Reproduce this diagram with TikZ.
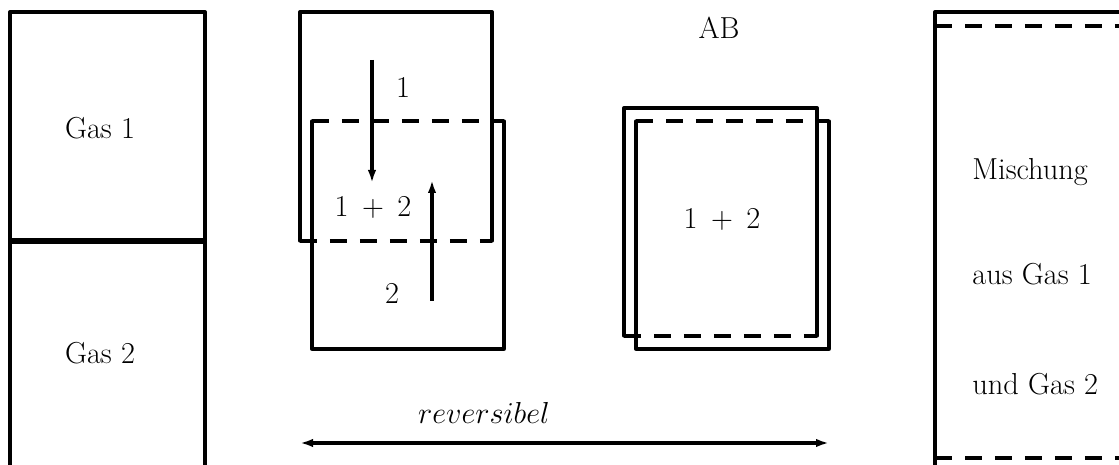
\documentclass[tikz,border=0pt]{standalone}
\usepackage{tikz}
\usetikzlibrary{arrows.meta,positioning}
\tikzset{
  wall/.style={
    line width=1.9pt,
    line cap=round,
    line join=round
  },
  sep/.style={
    line width=2.9pt
  },
  membrane/.style={
    line width=1.9pt,
    dash pattern=on 0.34cm off 0.26cm
  },
  flow/.style={
    line width=1.9pt,
    -{Latex[length=0.26cm,width=0.17cm]}
  },
  both/.style={
    line width=1.9pt,
    {Latex[length=0.26cm,width=0.17cm]}-{Latex[length=0.26cm,width=0.17cm]}
  },
  lbl/.style={
    inner sep=0pt
  },
  lblL/.style={
    anchor = west,
    inner sep=0pt
  }
}
\begin{document}
\begin{tikzpicture}[x=0.02cm,y=-0.02cm,font=\fontsize{17.28}{20}\selectfont]
        \useasboundingbox (0,0) rectangle (1119,465);

        % Gas 1 / Gas 2 mit Trennwand
        \draw[wall] (10,465) -- (10,12) -- (205,12) -- (205,465);
        \draw[sep] (10,241) -- (205,241);
        \node[lbl] (gasA) at (100,128) {Gas 1};
        \node[lbl] (gasB) at (100,353) {Gas 2};

        % zwei ineinander geschobene Kammern
        \draw[wall] (300,241) -- (300,12) -- (492,12) -- (492,241);
        \draw[membrane] (300,241) -- (492,241);
        \draw[wall] (312,121) -- (312,349) -- (504,349) -- (504,121);
        \draw[membrane] (312,121) -- (504,121);

        \coordinate (d1) at (372,60);
        \coordinate (d2) at (372,183);
        \coordinate (u1) at (432,301);
        \coordinate (u2) at (432,180);
        \draw[flow] (d1) -- (d2);
        \draw[flow] (u1) -- (u2);

        \node[lbl] (one) at (403,87) {1};
        \node[lbl] (mix) at (373,208) {$1\:+\:2$};
        \node[lbl] (two) at (392,293) {2};

        % fast deckungsgleiche Kammern
        \draw[wall] (624,336) -- (624,108) -- (817,108) -- (817,336);
        \draw[membrane] (624,336) -- (817,336);
        \draw[wall] (636,121) -- (636,349) -- (829,349) -- (829,121);
        \draw[membrane] (636,121) -- (829,121);
        \node[lbl] (mixAB) at (722,220) {$1\:+\:2$};
        \node[lbl] (AB) at (719,28) {AB};

        % reversibel
        \coordinate (r1) at (300,443);
        \coordinate (r2) at (829,443);
        \draw[both] (r1) -- (r2);
        \node[lbl] (rev) at (484,413) {$reversibel$};

        % Mischung
        \draw[wall] (935,465) -- (935,12) -- (1125,12);
        \draw[membrane] (935,26) -- (1125,26);
        \draw[membrane] (935,458) -- (1125,458);
        \node[lblL] (m1) at (972,172) {Mischung};
        \node[lblL] (m2) at (972,274) {aus Gas 1};
        \node[lblL] (m3) at (972,384) {und Gas 2};
\end{tikzpicture}
\end{document}
